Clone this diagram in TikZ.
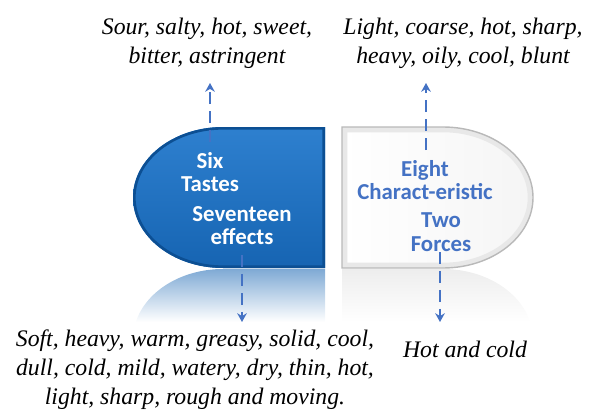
\documentclass[tikz,border=0pt]{standalone}
\usepackage{fontspec}
\setmainfont{Liberation Serif}
\newfontfamily\listfont{Liberation Serif}
\newfontfamily\calfont{Carlito}
\usetikzlibrary{arrows.meta}
\definecolor{darkblue}{HTML}{1664B2}
\definecolor{lightblue}{HTML}{2E80CF}
\definecolor{edgeblue}{HTML}{0C4F93}
\definecolor{flowblue}{HTML}{4472C4}
\tikzset{
  flow/.style={flowblue, line width=1.1pt, dash pattern=on 6.8pt off 4pt, -{Stealth[length=5pt,width=5.5pt]}},
  listtext/.style={align=center, font=\listfont\itshape\fontsize{13.5}{16.5}\selectfont},
  inbox/.style={align=center, font=\calfont\bfseries\fontsize{13}{13.5}\selectfont}
}
\def\bluehalf{(325,283) -- (223,283) arc[start angle=90, end angle=270, x radius=90, y radius=70.5] -- (325,142) -- cycle}
\def\whitehalf{(342,283) -- (443,283) arc[start angle=90, end angle=-90, x radius=90, y radius=70.5] -- (342,142) -- cycle}
\begin{document}
\begin{tikzpicture}[x=0.02cm, y=0.02cm]
  \useasboundingbox (0,0) rectangle (589,410);

  % reflections
  \shade[top color=darkblue!55, bottom color=white] (325,141) -- (223,141) arc[start angle=90, end angle=165.6, x radius=90, y radius=70.5] -- (325,88) -- cycle;
  \shade[top color=gray!14, bottom color=white] (342,141) -- (443,141) arc[start angle=90, end angle=14.4, x radius=90, y radius=70.5] -- (342,88) -- cycle;

  % the two halves
  \shade[top color=lightblue, bottom color=darkblue] \bluehalf;
  \begin{scope}
    \clip \bluehalf;
    \draw[edgeblue, line width=3pt] \bluehalf;
  \end{scope}
  \shade[left color=white, right color=gray!8] \whitehalf;
  \begin{scope}
    \clip \whitehalf;
    \draw[gray!18, line width=6pt] \whitehalf;
  \end{scope}
  \draw[gray!55, line width=0.8pt] \whitehalf;

  % arrows
  \coordinate (tastesfrom) at (210,268);
  \coordinate (tastesto) at (210,327);
  \coordinate (charfrom) at (426,260);
  \coordinate (charto) at (426,327);
  \coordinate (effectsfrom) at (242,155);
  \coordinate (effectsto) at (242,88);
  \coordinate (forcesfrom) at (440,158);
  \coordinate (forcesto) at (440,88);
  \draw[flow] (tastesfrom) -- (tastesto);
  \draw[flow] (charfrom) -- (charto);
  \draw[flow] (effectsfrom) -- (effectsto);
  \draw[flow] (forcesfrom) -- (forcesto);

  % texts in the halves
  \node[inbox, text=white] (tastes) at (210,238) {Six\\Tastes};
  \node[inbox, text=white] (effects) at (242,184.5) {Seventeen\\effects};
  \node[inbox, text=flowblue] (eight) at (425,230) {Eight\\Charact-eristic};
  \node[inbox, text=flowblue] (forces) at (441,177.5) {Two\\Forces};

  % lists
  \node[listtext] (tastelist) at (207,367) {Sour, salty, hot, sweet,\\bitter, astringent};
  \node[listtext] (charlist) at (463,367) {Light, coarse, hot, sharp,\\heavy, oily, cool, blunt};
  \node[listtext] (effectlist) at (195,40) {Soft, heavy, warm, greasy, solid, cool,\\dull, cold, mild, watery, dry, thin, hot,\\light, sharp, rough and moving.};
  \node[listtext] (forcelist) at (465,61) {Hot and cold};
\end{tikzpicture}
\end{document}
